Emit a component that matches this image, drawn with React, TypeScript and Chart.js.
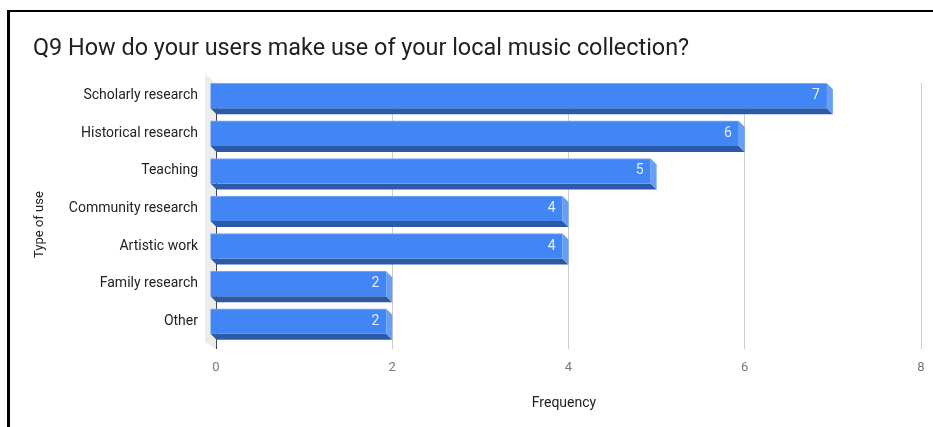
import React, { useEffect, useRef } from "react";
import { Chart, registerables } from "chart.js";

Chart.register(...registerables);

const TITLE = "Q9 How do your users make use of your local music collection?";
const categories = [
  "Scholarly research",
  "Historical research",
  "Teaching",
  "Community research",
  "Artistic work",
  "Family research",
  "Other",
];
const frequencies = [7, 6, 5, 4, 4, 2, 2];
const xMin = 0;
const xMax = 8;
const xStep = 2;
const xAxisTitle = "Frequency";
const yAxisTitle = "Type of use";

const FONT = "Roboto, 'Noto Sans', 'DejaVu Sans', sans-serif";
const D = 6;
const FRONT = "#4285f4";
const BOTTOM = "#2d5aa7";
const SIDE = "#679ef6";

const bar3d = {
  id: "bar3d",
  beforeDraw(chart: any) {
    const { ctx, chartArea: a } = chart;
    ctx.save();
    ctx.fillStyle = "#ececec";
    ctx.beginPath();
    ctx.moveTo(a.left - 11, a.top - 9);
    ctx.lineTo(a.left, a.top);
    ctx.lineTo(a.left, a.bottom + 3);
    ctx.lineTo(a.left - 11, a.bottom - 4);
    ctx.closePath();
    ctx.fill();
    ctx.restore();
  },
  beforeDatasetDraw(chart: any, args: any) {
    const ctx = chart.ctx;
    ctx.save();
    args.meta.data.forEach((el: any) => {
      const { x, y, base, height } = el.getProps(["x", "y", "base", "height"], true);
      const yt = y - height / 2;
      const yb = y + height / 2;
      ctx.fillStyle = BOTTOM;
      ctx.beginPath();
      ctx.moveTo(base - D, yb - D);
      ctx.lineTo(x - D, yb - D);
      ctx.lineTo(x, yb);
      ctx.lineTo(base, yb);
      ctx.closePath();
      ctx.fill();
      ctx.fillStyle = SIDE;
      ctx.beginPath();
      ctx.moveTo(x - D, yt - D);
      ctx.lineTo(x, yt);
      ctx.lineTo(x, yb);
      ctx.lineTo(x - D, yb - D);
      ctx.closePath();
      ctx.fill();
    });
    ctx.translate(-D, -D);
  },
  afterDatasetDraw(chart: any) {
    chart.ctx.restore();
  },
  afterDatasetsDraw(chart: any) {
    const ctx = chart.ctx;
    const meta = chart.getDatasetMeta(0);
    const data = chart.data.datasets[0].data;
    ctx.save();
    ctx.font = `14px ${FONT}`;
    ctx.fillStyle = "rgba(235,242,255,0.95)";
    ctx.textAlign = "right";
    ctx.textBaseline = "middle";
    meta.data.forEach((el: any, i: number) => {
      const { x, y } = el.getProps(["x", "y"], true);
      ctx.fillText(String(data[i]), x - D - 7, y - D);
    });
    ctx.restore();
  },
  afterDraw(chart: any) {
    const ctx = chart.ctx;
    const a = chart.chartArea;
    ctx.save();
    ctx.fillStyle = "#222222";
    ctx.textAlign = "center";
    ctx.textBaseline = "middle";
    ctx.font = `14px ${FONT}`;
    ctx.fillText(xAxisTitle, (a.left + a.right) / 2 - 4.5, a.bottom + 57);
    ctx.font = `13px ${FONT}`;
    ctx.translate(40, (a.top + a.bottom) / 2 + 10);
    ctx.rotate(-Math.PI / 2);
    ctx.fillText(yAxisTitle, 0, 0);
    ctx.restore();
  },
};

export default function App() {
  const ref = useRef<HTMLCanvasElement | null>(null);

  useEffect(() => {
    if (!ref.current) return;
    const chart = new Chart(ref.current, {
      type: "bar",
      data: {
        labels: categories,
        datasets: [
          {
            data: frequencies,
            backgroundColor: FRONT,
            borderColor: "#7eaaf7",
            borderWidth: { top: 1, right: 0, bottom: 0, left: 0 },
            borderSkipped: false,
            barThickness: 25,
            clip: false,
          } as any,
        ],
      },
      options: {
        indexAxis: "y",
        animation: false,
        responsive: false,
        maintainAspectRatio: false,
        layout: { padding: { left: 33, right: 12, top: 0, bottom: 0 } },
        plugins: {
          legend: { display: false },
          tooltip: { enabled: false },
          title: {
            display: true,
            text: TITLE,
            align: "start",
            color: "#212121",
            font: { family: FONT, size: 23.4, weight: "normal" },
            padding: { top: 35, bottom: 20 },
          },
        },
        scales: {
          x: {
            min: xMin,
            max: xMax,
            ticks: {
              stepSize: xStep,
              color: "#777777",
              font: { family: FONT, size: 13 },
              padding: 11,
            },
            grid: {
              color: (c: any) => (c.tick && c.tick.value === 0 ? "#444444" : "#cccccc"),
              drawTicks: true,
              tickLength: 3,
            },
            border: { display: false },
            title: { display: false },
            afterFit(s: any) {
              s.height = 81;
              s.paddingLeft = 0;
              s.paddingRight = 0;
            },
          },
          y: {
            grid: { display: false },
            border: { display: true, color: "#444444", width: 1 },
            ticks: {
              color: "#222222",
              font: { family: FONT, size: 14 },
              padding: 10,
              labelOffset: -6,
            },
            afterFit(s: any) {
              s.width = 183;
            },
          },
        },
      } as any,
      plugins: [bar3d],
    });
    return () => chart.destroy();
  }, []);

  return (
    <div style={{ position: "absolute", left: 0, top: 0, width: 933, height: 427, background: "#fff", overflow: "hidden" }}>
      <canvas
        ref={ref}
        width={933}
        height={427}
        style={{ position: "absolute", left: 0, top: 0, display: "block" }}
      />
      <div
        style={{
          position: "absolute",
          left: 7,
          top: 10,
          width: 2000,
          height: 2000,
          borderLeft: "3px solid #000",
          borderTop: "2px solid #000",
          pointerEvents: "none",
        }}
      />
    </div>
  );
}
